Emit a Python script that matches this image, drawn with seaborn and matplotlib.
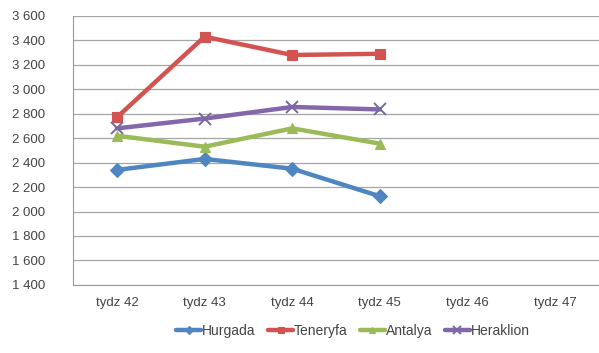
import pandas as pd
import numpy as np
import seaborn as sns
import matplotlib.pyplot as plt
from matplotlib.ticker import FuncFormatter

weeks = ["tydz 42", "tydz 43", "tydz 44", "tydz 45", "tydz 46", "tydz 47"]
hurgada = [2340, 2430, 2350, 2125]
teneryfa = [2770, 3430, 3280, 3290]
antalya = [2620, 2530, 2680, 2555]
heraklion = [2680, 2760, 2855, 2835]

series = {"Hurgada": hurgada, "Teneryfa": teneryfa, "Antalya": antalya, "Heraklion": heraklion}
colors = {"Hurgada": "#4f86c2", "Teneryfa": "#d2534f", "Antalya": "#9bbb59", "Heraklion": "#8466aa"}
markers = {"Hurgada": "D", "Teneryfa": "s", "Antalya": "^", "Heraklion": "x"}

rows = []
for name, vals in series.items():
    for i, v in enumerate(vals):
        rows.append({"pos": i, "value": v, "city": name})
df = pd.DataFrame(rows)

sns.set_style("white")
plt.rcParams['font.family'] = ['Liberation Sans', 'DejaVu Sans']

fig = plt.figure(figsize=(5.99, 3.53), dpi=100)
ax = fig.add_axes([0.122, 0.193, 0.878, 0.762])

for name in series:
    d = df[df.city == name]
    m = markers[name]
    if m == "x":
        sns.lineplot(data=d, x="pos", y="value", ax=ax, color=colors[name], lw=3.2,
                     marker=m, markersize=9, markeredgecolor="#7a68a0", markeredgewidth=1.4, label=name)
    else:
        sns.lineplot(data=d, x="pos", y="value", ax=ax, color=colors[name], lw=3.2,
                     marker=m, markersize=7.5, markeredgecolor=colors[name], markeredgewidth=0.8, label=name)

ax.set_xlim(-0.5, len(weeks) - 0.5)
ax.set_ylim(1400, 3600)
ax.set_yticks(np.arange(1400, 3601, 200))
ax.yaxis.set_major_formatter(FuncFormatter(lambda v, p: f"{int(v):,}".replace(",", " ")))
ax.set_xticks(range(len(weeks)))
ax.set_xticklabels(weeks)
ax.set_xticks(np.arange(-0.5, len(weeks), 1), minor=True)
ax.tick_params(axis="x", which="major", length=0, pad=9, labelsize=9.5, labelcolor="#444444")
ax.tick_params(axis="x", which="minor", length=4, color="#999999", direction="out")
ax.tick_params(axis="y", length=4, color="#999999", direction="out", labelsize=9.5, labelcolor="#444444", pad=16)
ax.set_xlabel("")
ax.set_ylabel("")
ax.yaxis.grid(True, color="#a6a6a6", lw=0.9)
ax.set_axisbelow(True)
for s in ["top", "right"]:
    ax.spines[s].set_visible(False)
ax.spines["left"].set_color("#999999")
ax.spines["bottom"].set_color("#999999")

ax.legend(loc="upper center", bbox_to_anchor=(0.532, -0.1), ncol=4, frameon=False,
          fontsize=10, handlelength=1.8, handletextpad=0.05, columnspacing=0.9, markerscale=0.6)
for t in ax.get_legend().get_texts():
    t.set_color("#444444")

fig.savefig("out.png", dpi=100)
